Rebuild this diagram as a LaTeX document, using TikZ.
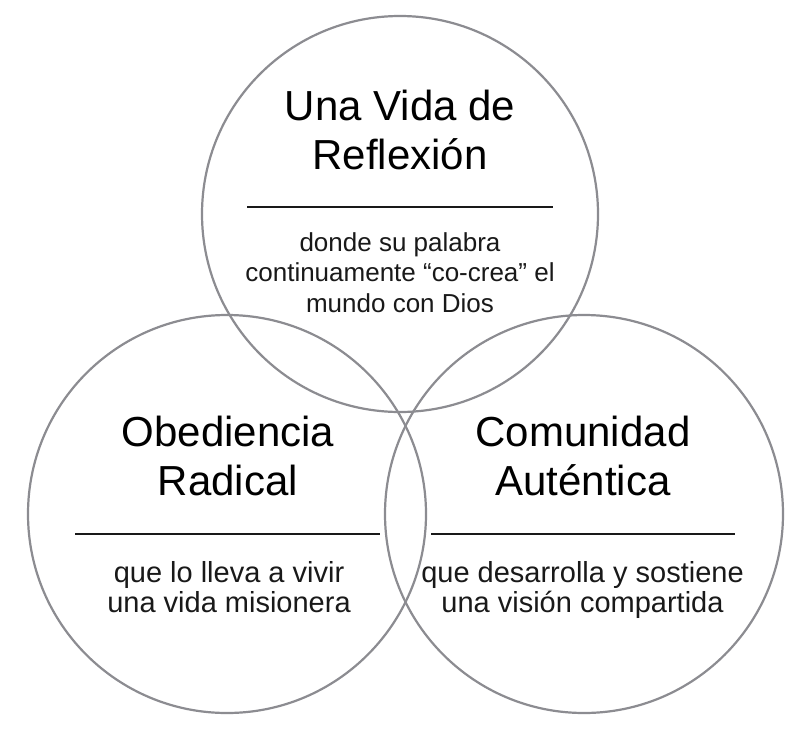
\documentclass[tikz,border=0pt]{standalone}
\usepackage{fontspec}
\setmainfont{Liberation Sans}
\tikzset{
  venn/.style={circle, draw={rgb,255:red,140;green,140;blue,145}, line width=2.2pt, inner sep=0pt},
  divider/.style={draw=black!90, line width=2.2pt},
  ttl/.style={font=\fontsize{42}{49}\selectfont, align=center, anchor=base, inner sep=0pt},
  bodytop/.style={font=\fontsize{26}{30.5}\selectfont, align=center, anchor=base, inner sep=0pt, text=black!90},
  bodybot/.style={font=\fontsize{29}{30}\selectfont, align=center, anchor=base, inner sep=0pt, text=black!90}
}
\begin{document}
\begin{tikzpicture}[x=1pt,y=-1pt]
  \useasboundingbox[fill=white] (0,0) rectangle (810,731);
  % circles
  \node[venn, minimum size=396pt] (ctop) at (400,214) {};
  \node[venn, minimum size=398pt] (cleft) at (227,514) {};
  \node[venn, minimum size=398pt] (cright) at (584,514) {};
  % top circle
  \node[ttl] (ttop) at (400,169) {Una Vida de\\Reflexión};
  \coordinate (lt1) at (247,207);
  \coordinate (lt2) at (553,207);
  \draw[divider] (lt1) -- (lt2);
  \node[bodytop] (btop) at (400,312) {donde su palabra\\continuamente “co-crea” el\\mundo con Dios};
  % left circle
  \node[ttl] (tleft) at (228,495) {Obediencia\\Radical};
  \coordinate (ll1) at (75,534);
  \coordinate (ll2) at (380,534);
  \draw[divider] (ll1) -- (ll2);
  \node[bodybot] (bleft) at (229,612) {que lo lleva a vivir\\una vida misionera};
  % right circle
  \node[ttl] (tright) at (583,495) {Comunidad\\Auténtica};
  \coordinate (lr1) at (431,534);
  \coordinate (lr2) at (735,534);
  \draw[divider] (lr1) -- (lr2);
  \node[bodybot] (bright) at (582.5,612) {que desarrolla y sostiene\\una visión compartida};
\end{tikzpicture}
\end{document}
